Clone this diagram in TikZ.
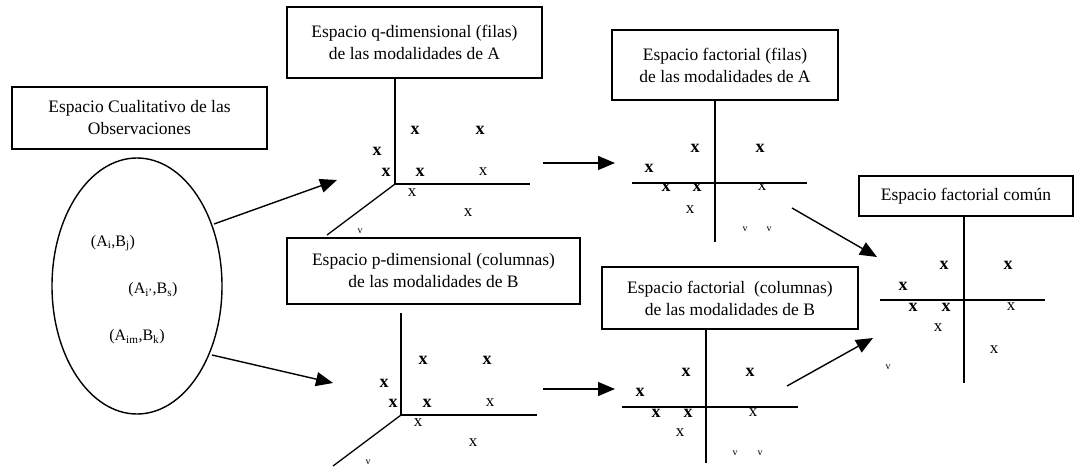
\documentclass[tikz,border=0pt]{standalone}
\usepackage{fontspec}
\setmainfont{Liberation Serif}
\usetikzlibrary{arrows.meta}
\tikzset{
  boxn/.style={draw, line width=1.4pt, inner sep=0pt, align=center,
    font=\fontsize{17.5}{22}\selectfont},
  axis/.style={line width=1.3pt},
  conn/.style={line width=1.4pt, -{Triangle[length=17pt,width=14pt]}},
  bx/.style={inner sep=0pt, font=\fontsize{18}{18}\selectfont\bfseries},
  nx/.style={inner sep=0pt, font=\fontsize{17}{17}\selectfont},
  vx/.style={inner sep=0pt, font=\fontsize{10}{10}\selectfont},
  pair/.style={inner sep=0pt, font=\fontsize{16}{16}\selectfont}
}
\begin{document}
\begin{tikzpicture}[x=1pt,y=-1pt]
\useasboundingbox (0,0) rectangle (1078,471);
% boxes
\node[boxn, minimum width=255pt, minimum height=62pt] (obs) at (139.5,118) {Espacio Cualitativo de las\\Observaciones};
\node[boxn, minimum width=255pt, minimum height=71pt] (qdim) at (414.5,42.5) {Espacio q-dimensional (filas)\\de las modalidades de A};
\node[boxn, minimum width=293pt, minimum height=66pt] (pdim) at (433.5,271) {Espacio p-dimensional (columnas)\\de las modalidades de B};
\node[boxn, minimum width=226pt, minimum height=70pt] (ffil) at (725,65) {Espacio factorial (filas)\\de las modalidades de A};
\node[boxn, minimum width=256pt, minimum height=62pt] (fcol) at (730,298) {Espacio factorial~ (columnas)\\de las modalidades de B};
\node[boxn, minimum width=214pt, minimum height=40pt] (fcom) at (966,196) {Espacio factorial común};
% ellipse
\draw[line width=1.4pt] (137,286) ellipse [x radius=85pt, y radius=128pt];
\node[pair] (p1) at (113,243) {(A\textsubscript{i},B\textsubscript{j})};
\node[pair] (p2) at (153,290) {(A\textsubscript{i'},B\textsubscript{s})};
\node[pair] (p3) at (137,337) {(A\textsubscript{im},B\textsubscript{k})};
% connectors
\coordinate (e1) at (214,224);
\coordinate (e2) at (212,355);
\coordinate (t1) at (337,180);
\coordinate (t2) at (333,383);
\coordinate (a1) at (543,163);
\coordinate (a2) at (615,163);
\coordinate (b1) at (543,389);
\coordinate (b2) at (615,389);
\coordinate (c1) at (792,208);
\coordinate (c2) at (877,257);
\coordinate (d1) at (787,386);
\coordinate (d2) at (873,338);
\draw[conn] (e1) -- (t1);
\draw[conn] (e2) -- (t2);
\draw[conn] (a1) -- (a2);
\draw[conn] (b1) -- (b2);
\draw[conn] (c1) -- (c2);
\draw[conn] (d1) -- (d2);
% axes q-dim
\draw[axis] (395,78) -- (395,184) -- (530,184);
\draw[axis] (395,184) -- (327,235);
\node[bx] at (415,130) {x}; \node[bx] at (480,130) {x};
\node[bx] at (377,151) {x}; \node[bx] at (386,172) {x}; \node[bx] at (420,172) {x};
\node[nx] at (483,172) {x}; \node[nx] at (412,193) {x}; \node[nx] at (468,213) {x};
\node[vx] at (360,231) {v};
% axes p-dim
\draw[axis] (401,313) -- (401,415) -- (537,415);
\draw[axis] (401,415) -- (333,466);
\node[bx] at (423,360) {x}; \node[bx] at (487,360) {x};
\node[bx] at (384,383) {x}; \node[bx] at (393,403) {x}; \node[bx] at (427,403) {x};
\node[nx] at (490,403) {x}; \node[nx] at (418,423) {x}; \node[nx] at (473,443) {x};
\node[vx] at (368,462) {v};
% factorial filas
\draw[axis] (715,100) -- (715,242);
\draw[axis] (632,183) -- (807,183);
\node[bx] at (695,148) {x}; \node[bx] at (760,148) {x};
\node[bx] at (649,168) {x}; \node[bx] at (666,187) {x}; \node[bx] at (697,187) {x};
\node[nx] at (762,187) {x}; \node[nx] at (690,210) {x};
\node[vx] at (745,229) {v}; \node[vx] at (769,229) {v};
% factorial columnas
\draw[axis] (706,329) -- (706,463);
\draw[axis] (622,407) -- (798,407);
\node[bx] at (686,372) {x}; \node[bx] at (750,372) {x};
\node[bx] at (640,392) {x}; \node[bx] at (656,413) {x}; \node[bx] at (688,413) {x};
\node[nx] at (753,413) {x}; \node[nx] at (680,433) {x};
\node[vx] at (735,453) {v}; \node[vx] at (760,453) {v};
% factorial comun
\draw[axis] (964,216) -- (964,383);
\draw[axis] (880,300) -- (1045,300);
\node[bx] at (944,265) {x}; \node[bx] at (1008,265) {x};
\node[bx] at (903,286) {x}; \node[bx] at (913,307) {x}; \node[bx] at (946,307) {x};
\node[nx] at (1011,307) {x}; \node[nx] at (938,328) {x}; \node[nx] at (994,350) {x};
\node[vx] at (888,367) {v};
\end{tikzpicture}
\end{document}
